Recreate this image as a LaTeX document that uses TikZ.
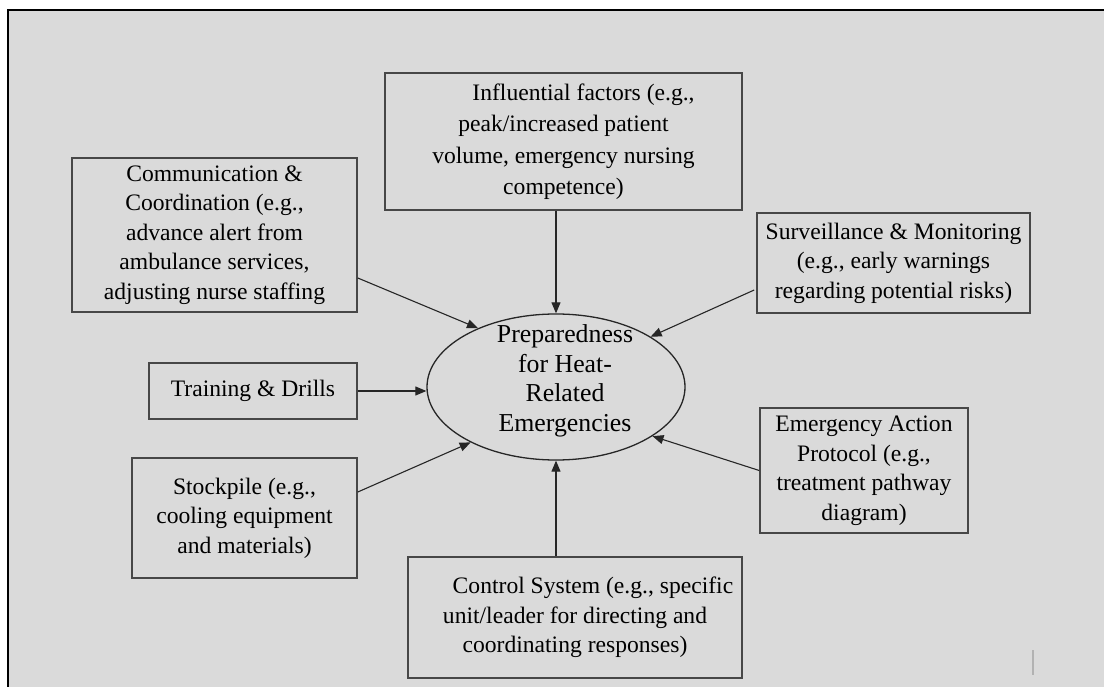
\documentclass[tikz,border=0pt]{standalone}
\usepackage{fontspec}
\setmainfont{Liberation Serif}
\usetikzlibrary{arrows.meta,calc,positioning,shapes.geometric}

\definecolor{panel}{HTML}{DADADA}

\begin{document}
\begin{tikzpicture}[x=1pt,y=-1pt,
    every node/.style={font=\fontsize{23.6}{29.5}\selectfont,text=black},
    factor/.style={draw=black!72,line width=1.6pt,rectangle,inner sep=0pt,align=center},
    goal/.style={draw=black!85,line width=1.3pt,ellipse,inner sep=0pt,
      minimum width=258pt,minimum height=146pt,font=\fontsize{25.8}{29.4}\selectfont},
    feed/.style={draw=black!85,line width=1.1pt,-{Triangle[length=11pt,width=9pt]}}]

    \useasboundingbox (0,0) rectangle (1104,687);
    \fill[white] (0,0) rectangle (1104,687);
    \fill[panel] (8,10) rectangle (1104,687);
    \draw[black,line width=1.8pt] (8,687) -- (8,10) -- (1104,10);
    \draw[black!30,line width=1.5pt] (1033,650) -- (1033,675);

    % centre
    \node[goal] (prep) at (556,387) {\makebox[0pt]{\hspace{18pt}\smash{\parbox[c]{220pt}{\centering
      Preparedness\\for Heat-\\Related\\Emergencies}}}};

    % factors round it
    \node[factor,minimum width=357pt,minimum height=137pt,
      font=\fontsize{23.6}{31.5}\selectfont] (infl) at (563.5,141.5)
      {\hspace*{40pt}Influential factors (e.g.,\\peak/increased patient\\volume, emergency nursing\\competence)};
    \node[factor,minimum width=285pt,minimum height=154pt] (comm) at (214.5,235)
      {Communication \&\\Coordination (e.g.,\\advance alert from\\ambulance services,\\adjusting nurse staffing};
    \node[factor,minimum width=273pt,minimum height=100pt] (surv) at (893.5,263)
      {Surveillance \& Monitoring\\(e.g., early warnings\\regarding potential risks)};
    \node[factor,minimum width=208pt,minimum height=56pt] (train) at (253,391)
      {Training \& Drills};
    \node[factor,minimum width=225pt,minimum height=120pt] (stock) at (244.5,518)
      {Stockpile (e.g.,\\cooling equipment\\and materials)};
    \node[factor,minimum width=208pt,minimum height=125pt] (emerg) at (864,470.5)
      {Emergency Action\\Protocol (e.g.,\\treatment pathway\\diagram)};
    \node[factor,minimum width=334pt,minimum height=121pt] (ctrl) at (575,617.5)
      {\hspace*{36pt}Control System (e.g., specific\\unit/leader for directing and\\coordinating responses)};

    % arrows into the ellipse
    \draw[feed] (infl.south -| prep.north) -- (prep.north);
    \draw[feed] ($(comm.east)+(0,43)$) -- (prep.143);
    \draw[feed] ($(surv.west)+(-2,27)$) -- (prep.28);
    \draw[feed] (train.east) -- (train.east -| prep.west);
    \draw[feed] ($(stock.east)+(0,-26)$) -- (prep.213);
    \draw[feed] (emerg.west) -- (prep.333);
    \draw[feed] (ctrl.north -| prep.south) -- (prep.south);
  \end{tikzpicture}
\end{document}
